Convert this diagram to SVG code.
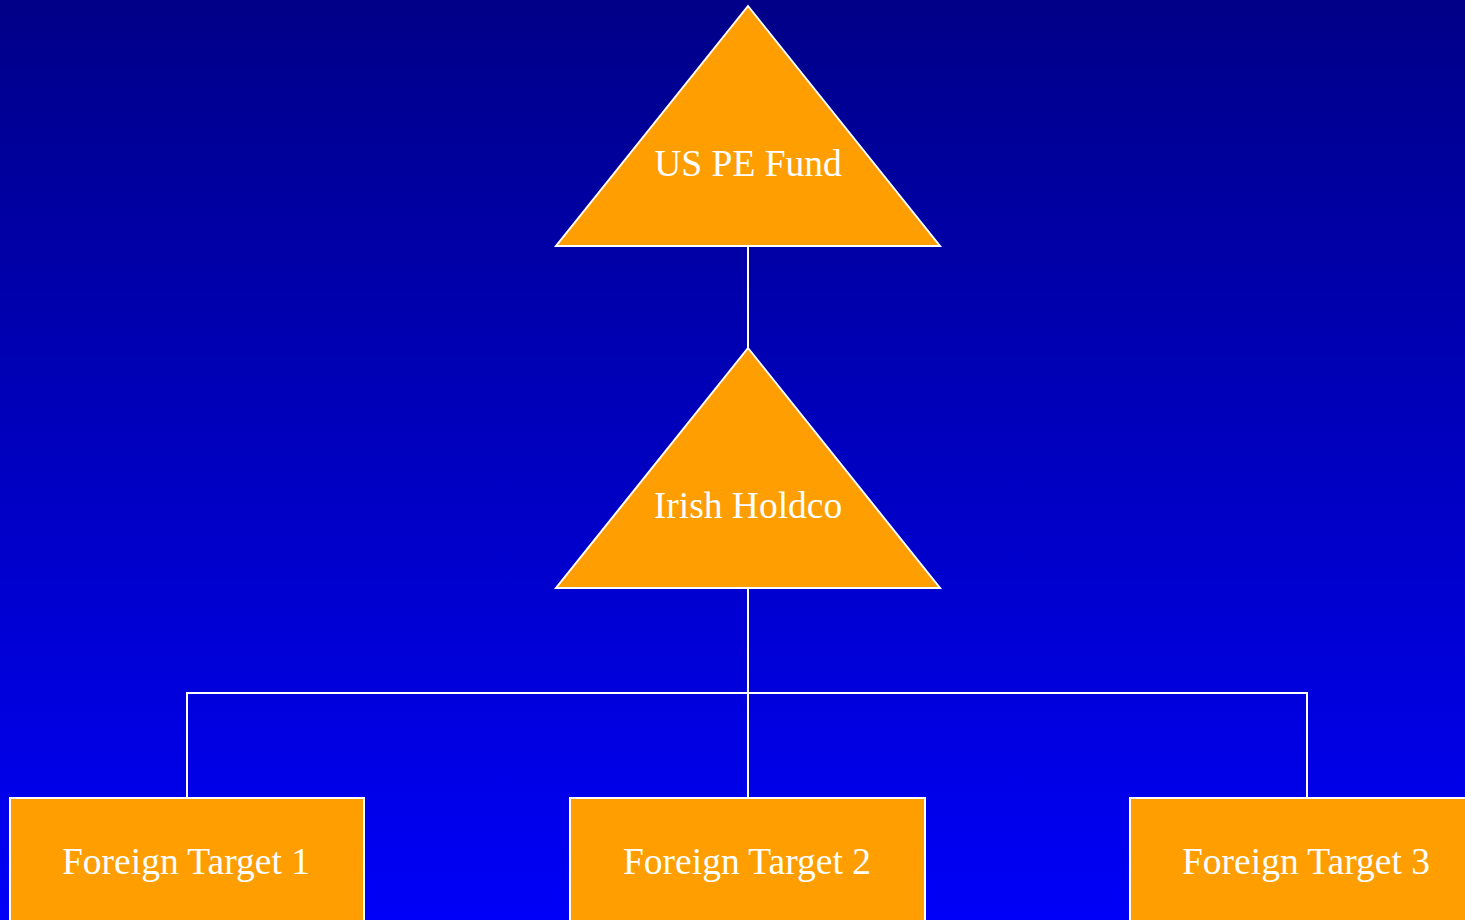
<svg xmlns="http://www.w3.org/2000/svg" width="1465" height="920" viewBox="0 0 1465 920">
  <defs>
    <linearGradient id="bg" x1="0" y1="0" x2="0" y2="1">
      <stop offset="0" stop-color="#000088"/>
      <stop offset="1" stop-color="#0000F8"/>
    </linearGradient>
  </defs>
  <style>
    .node { fill: #FF9E00; stroke: #FFFFFF; stroke-width: 2; }
    .lbl { font-family: "Liberation Serif", "Times New Roman", serif; font-size: 37.5px; fill: #FFFFFF; text-anchor: middle; }
    .conn { fill: none; stroke: #FFFFFF; stroke-width: 2; }
  </style>
  <rect x="0" y="0" width="1465" height="920" fill="url(#bg)"/>
  <g id="connectors">
    <path class="conn" d="M748,246 V348"/>
    <path class="conn" d="M748,588 V798"/>
    <path class="conn" d="M187,798 V693 H1307 V798"/>
  </g>
  <g id="us-pe-fund">
    <polygon class="node" points="748,6 940,246 556,246"/>
    <text class="lbl" x="748" y="176">US PE Fund</text>
  </g>
  <g id="irish-holdco">
    <polygon class="node" points="748,348 940,588 556,588"/>
    <text class="lbl" x="748" y="518">Irish Holdco</text>
  </g>
  <g id="foreign-target-1">
    <rect class="node" x="10" y="798" width="354" height="130"/>
    <text class="lbl" x="186" y="874">Foreign Target 1</text>
  </g>
  <g id="foreign-target-2">
    <rect class="node" x="570" y="798" width="355" height="130"/>
    <text class="lbl" x="747" y="874">Foreign Target 2</text>
  </g>
  <g id="foreign-target-3">
    <rect class="node" x="1130" y="798" width="354" height="130"/>
    <text class="lbl" x="1306" y="874">Foreign Target 3</text>
  </g>
</svg>
